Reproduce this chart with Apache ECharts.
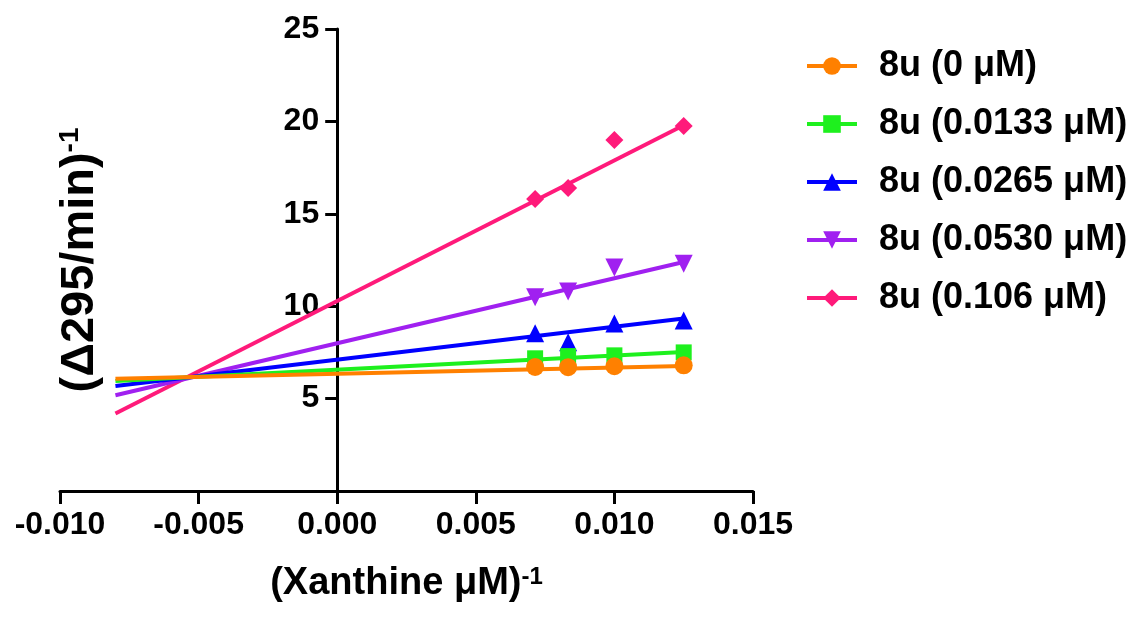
<!DOCTYPE html>
<html>
<head>
<meta charset="utf-8">
<script src="https://cdn.jsdelivr.net/npm/echarts@6/dist/echarts.min.js"></script>
<style>
  html, body { margin: 0; padding: 0; background: #fff; }
  #chart { width: 1144px; height: 617px; }
</style>
</head>
<body>
<div id="chart"></div>
<script>
// 1/[Xanthine] values
var xVals = [0.00714, 0.00833, 0.0100, 0.0125];
var seriesNames = ['8u (0 μM)', '8u (0.0133 μM)', '8u (0.0265 μM)', '8u (0.0530 μM)', '8u (0.106 μM)'];
// 1/v for each inhibitor concentration
var y0 = [6.71, 6.70, 6.75, 6.80];
var y1 = [7.18, 7.30, 7.34, 7.50];
var y2 = [8.53, 8.05, 9.07, 9.23];
var y3 = [10.48, 10.80, 12.10, 12.30];
var y4 = [15.80, 16.40, 19.00, 19.75];
// fitted lines, read at both ends
var fitX = [-0.008, 0.0125];
var fitStart = [6.08, 5.95, 5.68, 5.18, 4.19];
var fitEnd = [6.77, 7.52, 9.33, 12.39, 19.79];
var xTicks = [-0.010, -0.005, 0.000, 0.005, 0.010, 0.015];
var yTicks = [0, 5, 10, 15, 20, 25];

var colors = ['#FF8000', '#1EF01E', '#0000FF', '#A020F0', '#FF1A7A'];
var symbols = ['circle', 'rect', 'triangle', 'triangle', 'diamond'];
var rotates = [0, 0, 0, 180, 0];
var sizes = [18, 16, 18, 18, 18];
var yData = [y0, y1, y2, y3, y4];
var font = "'Liberation Sans', Arial, sans-serif";

var gridLeft = 60, gridRight = 391;
var plotW = 1144 - gridLeft - gridRight;
// y axis sits at x = 0, so shift it in from the grid's left edge
var yAxisShift = plotW * (0 - xTicks[0]) / (xTicks[xTicks.length - 1] - xTicks[0]);

var myChart = echarts.init(document.getElementById('chart'));

var series = [];
// draw pink first so orange ends up on top
for (var i = yData.length - 1; i >= 0; i--) {
  series.push({
    name: seriesNames[i],
    type: 'line',
    data: [[fitX[0], fitStart[i]], [fitX[1], fitEnd[i]]],
    showSymbol: false,
    symbol: symbols[i],
    symbolSize: sizes[i],
    symbolRotate: rotates[i],
    lineStyle: { color: colors[i], width: 4 },
    itemStyle: { color: colors[i] },
    silent: true,
    z: 2
  });
  series.push({
    name: seriesNames[i],
    type: 'scatter',
    data: xVals.map(function (x, k) { return [x, yData[i][k]]; }),
    symbol: symbols[i],
    symbolSize: sizes[i],
    symbolRotate: rotates[i],
    itemStyle: { color: colors[i], opacity: 1 },
    z: 3
  });
}

var option = {
  backgroundColor: '#fff',
  animation: false,
  textStyle: { fontFamily: font, fontWeight: 'bold', color: '#000' },
  grid: { left: gridLeft, right: gridRight, top: 29, bottom: 126, containLabel: false, outerBoundsMode: 'none' },
  legend: {
    data: seriesNames,
    orient: 'vertical',
    left: 800,
    top: 41,
    itemWidth: 50,
    itemHeight: 22,
    itemGap: 18,
    lineStyle: { width: 4 },
    textStyle: {
      fontFamily: font, fontWeight: 'bold', fontSize: 36, color: '#000',
      lineHeight: 40, padding: [0, 0, 0, 17]
    }
  },
  xAxis: {
    type: 'value',
    min: xTicks[0],
    max: xTicks[xTicks.length - 1],
    interval: 0.005,
    splitLine: { show: false },
    axisLine: { onZero: false, lineStyle: { color: '#000', width: 3 } },
    axisTick: { length: 13, lineStyle: { color: '#000', width: 3 } },
    axisLabel: {
      margin: 18, fontSize: 32, fontWeight: 'bold', color: '#000', fontFamily: font,
      formatter: function (v) { return v.toFixed(3); }
    },
    name: '{a|(Xanthine μM)}{b|-1}',
    nameLocation: 'middle',
    nameGap: 74,
    nameTextStyle: {
      rich: {
        a: { fontSize: 38, fontWeight: 'bold', fontFamily: font, color: '#000' },
        b: { fontSize: 24, fontWeight: 'bold', fontFamily: font, color: '#000', verticalAlign: 'top' }
      }
    }
  },
  yAxis: {
    type: 'value',
    min: yTicks[0],
    max: yTicks[yTicks.length - 1],
    interval: 5,
    offset: -yAxisShift,
    splitLine: { show: false },
    axisLine: { onZero: false, lineStyle: { color: '#000', width: 3 } },
    axisTick: { length: 12, lineStyle: { color: '#000', width: 3 } },
    axisLabel: {
      margin: 18, fontSize: 32, fontWeight: 'bold', color: '#000', fontFamily: font,
      formatter: function (v) { return v === 0 ? '' : String(v); }
    },
    name: '{a|(Δ295/min)}{b|-1}',
    nameLocation: 'middle',
    nameRotate: 90,
    nameGap: 234,
    nameTextStyle: {
      rich: {
        a: { fontSize: 47, fontWeight: 'bold', fontFamily: font, color: '#000' },
        b: { fontSize: 28, fontWeight: 'bold', fontFamily: font, color: '#000', verticalAlign: 'top' }
      }
    }
  },
  series: series
};

myChart.setOption(option);
</script>
</body>
</html>
